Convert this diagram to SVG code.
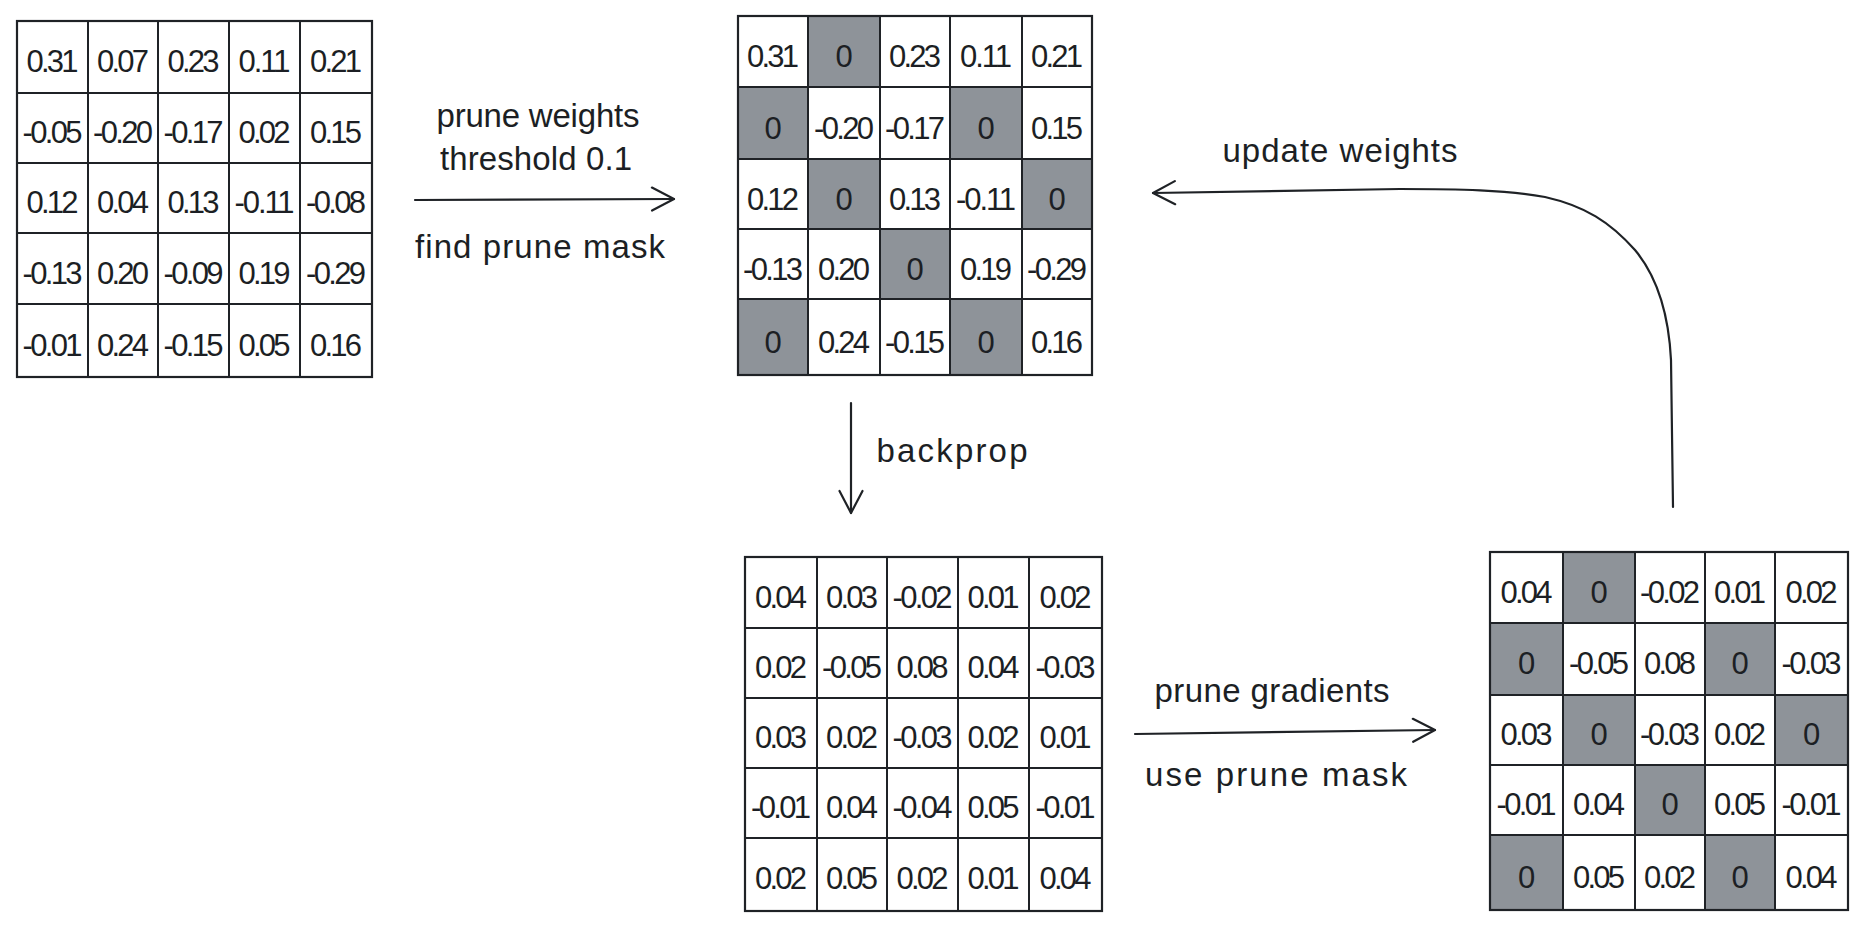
<svg xmlns="http://www.w3.org/2000/svg" width="1867" height="929" viewBox="0 0 1867 929">
<style>
.bg{fill:#ffffff}
.frame{fill:none;stroke:#1f2226;stroke-width:2.2}
.ln{stroke:#1f2226;stroke-width:2}
.z{fill:#8e9399}
.v{font-family:"Liberation Sans",Arial,sans-serif;font-size:31px;fill:#1c1f24;text-anchor:middle}
.lbl{font-family:"Liberation Sans",Arial,sans-serif;font-size:33px;fill:#1c1f24;text-anchor:middle}
.conn{fill:none;stroke:#1f2226;stroke-width:2.2;stroke-linecap:round}
</style>
<defs>
<marker id="chev" viewBox="0 0 26 26" refX="24" refY="13" markerWidth="26" markerHeight="26" markerUnits="userSpaceOnUse" orient="auto">
<path d="M2,1.5 L24,13 L2,24.5" fill="none" stroke="#1f2226" stroke-width="2.2" stroke-linecap="round" stroke-linejoin="round"/>
</marker>
</defs>
<rect class="bg" x="0" y="0" width="1867" height="929"/>

<g id="weights">
<rect class="frame" x="17" y="21" width="355" height="356"/>
<line class="ln" x1="88" y1="21" x2="88" y2="377"/>
<line class="ln" x1="158" y1="21" x2="158" y2="377"/>
<line class="ln" x1="229" y1="21" x2="229" y2="377"/>
<line class="ln" x1="300" y1="21" x2="300" y2="377"/>
<line class="ln" x1="17" y1="93" x2="372" y2="93"/>
<line class="ln" x1="17" y1="163" x2="372" y2="163"/>
<line class="ln" x1="17" y1="233" x2="372" y2="233"/>
<line class="ln" x1="17" y1="304" x2="372" y2="304"/>
<text class="v" x="52.5" y="72" textLength="52">0.31</text>
<text class="v" x="123" y="72" textLength="52">0.07</text>
<text class="v" x="193.5" y="72" textLength="52">0.23</text>
<text class="v" x="264.5" y="72" textLength="52">0.11</text>
<text class="v" x="336" y="72" textLength="52">0.21</text>
<text class="v" x="52.5" y="143" textLength="60">-0.05</text>
<text class="v" x="123" y="143" textLength="60">-0.20</text>
<text class="v" x="193.5" y="143" textLength="60">-0.17</text>
<text class="v" x="264.5" y="143" textLength="52">0.02</text>
<text class="v" x="336" y="143" textLength="52">0.15</text>
<text class="v" x="52.5" y="213" textLength="52">0.12</text>
<text class="v" x="123" y="213" textLength="52">0.04</text>
<text class="v" x="193.5" y="213" textLength="52">0.13</text>
<text class="v" x="264.5" y="213" textLength="60">-0.11</text>
<text class="v" x="336" y="213" textLength="60">-0.08</text>
<text class="v" x="52.5" y="284" textLength="60">-0.13</text>
<text class="v" x="123" y="284" textLength="52">0.20</text>
<text class="v" x="193.5" y="284" textLength="60">-0.09</text>
<text class="v" x="264.5" y="284" textLength="52">0.19</text>
<text class="v" x="336" y="284" textLength="60">-0.29</text>
<text class="v" x="52.5" y="356" textLength="60">-0.01</text>
<text class="v" x="123" y="356" textLength="52">0.24</text>
<text class="v" x="193.5" y="356" textLength="60">-0.15</text>
<text class="v" x="264.5" y="356" textLength="52">0.05</text>
<text class="v" x="336" y="356" textLength="52">0.16</text>
</g>

<g id="pruned-weights">
<rect class="z" x="808" y="16" width="72" height="71"/>
<rect class="z" x="738" y="87" width="70" height="72"/>
<rect class="z" x="950" y="87" width="72" height="72"/>
<rect class="z" x="808" y="159" width="72" height="70"/>
<rect class="z" x="1022" y="159" width="70" height="70"/>
<rect class="z" x="880" y="229" width="70" height="70"/>
<rect class="z" x="738" y="299" width="70" height="76"/>
<rect class="z" x="950" y="299" width="72" height="76"/>
<rect class="frame" x="738" y="16" width="354" height="359"/>
<line class="ln" x1="808" y1="16" x2="808" y2="375"/>
<line class="ln" x1="880" y1="16" x2="880" y2="375"/>
<line class="ln" x1="950" y1="16" x2="950" y2="375"/>
<line class="ln" x1="1022" y1="16" x2="1022" y2="375"/>
<line class="ln" x1="738" y1="87" x2="1092" y2="87"/>
<line class="ln" x1="738" y1="159" x2="1092" y2="159"/>
<line class="ln" x1="738" y1="229" x2="1092" y2="229"/>
<line class="ln" x1="738" y1="299" x2="1092" y2="299"/>
<text class="v" x="773" y="67" textLength="52">0.31</text>
<text class="v" x="844" y="67">0</text>
<text class="v" x="915" y="67" textLength="52">0.23</text>
<text class="v" x="986" y="67" textLength="52">0.11</text>
<text class="v" x="1057" y="67" textLength="52">0.21</text>
<text class="v" x="773" y="139">0</text>
<text class="v" x="844" y="139" textLength="60">-0.20</text>
<text class="v" x="915" y="139" textLength="60">-0.17</text>
<text class="v" x="986" y="139">0</text>
<text class="v" x="1057" y="139" textLength="52">0.15</text>
<text class="v" x="773" y="210" textLength="52">0.12</text>
<text class="v" x="844" y="210">0</text>
<text class="v" x="915" y="210" textLength="52">0.13</text>
<text class="v" x="986" y="210" textLength="60">-0.11</text>
<text class="v" x="1057" y="210">0</text>
<text class="v" x="773" y="280" textLength="60">-0.13</text>
<text class="v" x="844" y="280" textLength="52">0.20</text>
<text class="v" x="915" y="280">0</text>
<text class="v" x="986" y="280" textLength="52">0.19</text>
<text class="v" x="1057" y="280" textLength="60">-0.29</text>
<text class="v" x="773" y="353">0</text>
<text class="v" x="844" y="353" textLength="52">0.24</text>
<text class="v" x="915" y="353" textLength="60">-0.15</text>
<text class="v" x="986" y="353">0</text>
<text class="v" x="1057" y="353" textLength="52">0.16</text>
</g>

<g id="gradients">
<rect class="frame" x="745" y="557" width="357" height="354"/>
<line class="ln" x1="817" y1="557" x2="817" y2="911"/>
<line class="ln" x1="887" y1="557" x2="887" y2="911"/>
<line class="ln" x1="958" y1="557" x2="958" y2="911"/>
<line class="ln" x1="1029" y1="557" x2="1029" y2="911"/>
<line class="ln" x1="745" y1="628" x2="1102" y2="628"/>
<line class="ln" x1="745" y1="698" x2="1102" y2="698"/>
<line class="ln" x1="745" y1="768" x2="1102" y2="768"/>
<line class="ln" x1="745" y1="838" x2="1102" y2="838"/>
<text class="v" x="781" y="608" textLength="52">0.04</text>
<text class="v" x="852" y="608" textLength="52">0.03</text>
<text class="v" x="922.5" y="608" textLength="60">-0.02</text>
<text class="v" x="993.5" y="608" textLength="52">0.01</text>
<text class="v" x="1065.5" y="608" textLength="52">0.02</text>
<text class="v" x="781" y="678" textLength="52">0.02</text>
<text class="v" x="852" y="678" textLength="60">-0.05</text>
<text class="v" x="922.5" y="678" textLength="52">0.08</text>
<text class="v" x="993.5" y="678" textLength="52">0.04</text>
<text class="v" x="1065.5" y="678" textLength="60">-0.03</text>
<text class="v" x="781" y="748" textLength="52">0.03</text>
<text class="v" x="852" y="748" textLength="52">0.02</text>
<text class="v" x="922.5" y="748" textLength="60">-0.03</text>
<text class="v" x="993.5" y="748" textLength="52">0.02</text>
<text class="v" x="1065.5" y="748" textLength="52">0.01</text>
<text class="v" x="781" y="818" textLength="60">-0.01</text>
<text class="v" x="852" y="818" textLength="52">0.04</text>
<text class="v" x="922.5" y="818" textLength="60">-0.04</text>
<text class="v" x="993.5" y="818" textLength="52">0.05</text>
<text class="v" x="1065.5" y="818" textLength="60">-0.01</text>
<text class="v" x="781" y="889" textLength="52">0.02</text>
<text class="v" x="852" y="889" textLength="52">0.05</text>
<text class="v" x="922.5" y="889" textLength="52">0.02</text>
<text class="v" x="993.5" y="889" textLength="52">0.01</text>
<text class="v" x="1065.5" y="889" textLength="52">0.04</text>
</g>

<g id="pruned-gradients">
<rect class="z" x="1563" y="552" width="72" height="71"/>
<rect class="z" x="1490" y="623" width="73" height="72"/>
<rect class="z" x="1705" y="623" width="70" height="72"/>
<rect class="z" x="1563" y="695" width="72" height="70"/>
<rect class="z" x="1775" y="695" width="73" height="70"/>
<rect class="z" x="1635" y="765" width="70" height="70"/>
<rect class="z" x="1490" y="835" width="73" height="75"/>
<rect class="z" x="1705" y="835" width="70" height="75"/>
<rect class="frame" x="1490" y="552" width="358" height="358"/>
<line class="ln" x1="1563" y1="552" x2="1563" y2="910"/>
<line class="ln" x1="1635" y1="552" x2="1635" y2="910"/>
<line class="ln" x1="1705" y1="552" x2="1705" y2="910"/>
<line class="ln" x1="1775" y1="552" x2="1775" y2="910"/>
<line class="ln" x1="1490" y1="623" x2="1848" y2="623"/>
<line class="ln" x1="1490" y1="695" x2="1848" y2="695"/>
<line class="ln" x1="1490" y1="765" x2="1848" y2="765"/>
<line class="ln" x1="1490" y1="835" x2="1848" y2="835"/>
<text class="v" x="1526.5" y="603" textLength="52">0.04</text>
<text class="v" x="1599" y="603">0</text>
<text class="v" x="1670" y="603" textLength="60">-0.02</text>
<text class="v" x="1740" y="603" textLength="52">0.01</text>
<text class="v" x="1811.5" y="603" textLength="52">0.02</text>
<text class="v" x="1526.5" y="674">0</text>
<text class="v" x="1599" y="674" textLength="60">-0.05</text>
<text class="v" x="1670" y="674" textLength="52">0.08</text>
<text class="v" x="1740" y="674">0</text>
<text class="v" x="1811.5" y="674" textLength="60">-0.03</text>
<text class="v" x="1526.5" y="745" textLength="52">0.03</text>
<text class="v" x="1599" y="745">0</text>
<text class="v" x="1670" y="745" textLength="60">-0.03</text>
<text class="v" x="1740" y="745" textLength="52">0.02</text>
<text class="v" x="1811.5" y="745">0</text>
<text class="v" x="1526.5" y="815" textLength="60">-0.01</text>
<text class="v" x="1599" y="815" textLength="52">0.04</text>
<text class="v" x="1670" y="815">0</text>
<text class="v" x="1740" y="815" textLength="52">0.05</text>
<text class="v" x="1811.5" y="815" textLength="60">-0.01</text>
<text class="v" x="1526.5" y="888">0</text>
<text class="v" x="1599" y="888" textLength="52">0.05</text>
<text class="v" x="1670" y="888" textLength="52">0.02</text>
<text class="v" x="1740" y="888">0</text>
<text class="v" x="1811.5" y="888" textLength="52">0.04</text>
</g>

<g id="connectors">
<path class="conn" d="M415,200 L674,199" marker-end="url(#chev)"/>
<path class="conn" d="M851,403 L851,513" marker-end="url(#chev)"/>
<path class="conn" d="M1135,734 L1435,730" marker-end="url(#chev)"/>
<path class="conn" d="M1673,507 L1671,360 C1669,320 1660,280 1635,250 C1610,222 1585,206 1545,197 C1505,190 1460,189 1400,189 L1153,193" marker-end="url(#chev)"/>
<text class="lbl" x="538" y="127" textLength="203">prune weights</text>
<text class="lbl" x="536" y="170" textLength="192">threshold 0.1</text>
<text class="lbl" x="540" y="258" textLength="250">find prune mask</text>
<text class="lbl" x="952" y="462" textLength="151">backprop</text>
<text class="lbl" x="1340" y="162" textLength="235">update weights</text>
<text class="lbl" x="1272" y="702" textLength="235">prune gradients</text>
<text class="lbl" x="1276" y="786" textLength="262">use prune mask</text>
</g>
</svg>
